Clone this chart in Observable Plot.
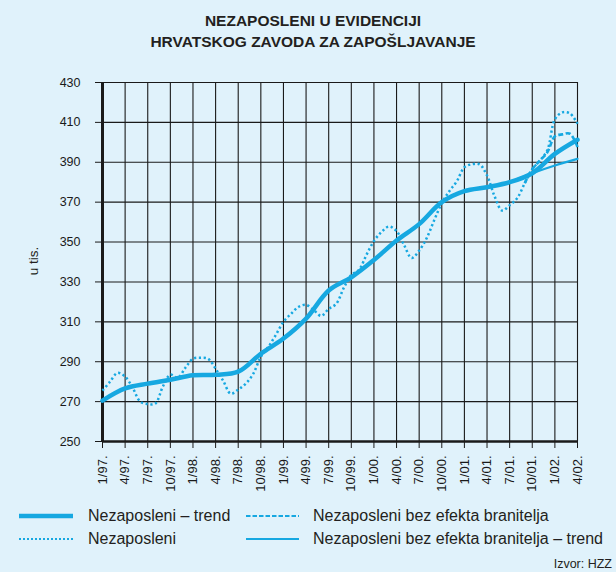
<!DOCTYPE html>
<html>
<head>
<meta charset="utf-8">
<script src="https://cdn.jsdelivr.net/npm/d3@7"></script>
<script src="https://cdn.jsdelivr.net/npm/@observablehq/plot@0.6"></script>
<style>
  html, body { margin: 0; padding: 0; }
  body { width: 616px; height: 572px; background: #e0f2fb; position: relative; overflow: hidden;
         font-family: "Liberation Sans", Arial, Helvetica, sans-serif; color: #222; }
  #title { position: absolute; left: 5px; top: 10px; width: 616px; text-align: center;
           font-weight: bold; font-size: 15.5px; line-height: 21px; color: #231f20; }
  #chart { position: absolute; left: 0; top: 0; }
  #ylab { position: absolute; left: 33px; top: 261px; font-size: 13.5px; color: #231f20;
          transform: translate(-50%, -50%) rotate(-90deg); white-space: nowrap; }
  .leg { position: absolute; font-size: 16px; line-height: 18px; color: #231f20; white-space: nowrap; }
  #swatches { position: absolute; left: 0; top: 500px; }
  #source { position: absolute; right: 4px; top: 557px; font-size: 12.5px; color: #231f20; }
</style>
</head>
<body>
<div id="title">NEZAPOSLENI U EVIDENCIJI<br>HRVATSKOG ZAVODA ZA ZAPOŠLJAVANJE</div>
<div id="chart"></div>
<div id="ylab">u tis.</div>
<svg id="swatches" width="616" height="72"></svg>
<div class="leg" style="left:88px; top:507px;">Nezaposleni – trend</div>
<div class="leg" style="left:88px; top:530px;">Nezaposleni</div>
<div class="leg" style="left:313px; top:507px;">Nezaposleni bez efekta branitelja</div>
<div class="leg" style="left:313px; top:530px;">Nezaposleni bez efekta branitelja – trend</div>
<div id="source">Izvor: HZZ</div>
<script>
// Quarterly tick labels (month index 0 = 1/97.)
const tickLabels = ["1/97.","4/97.","7/97.","10/97.","1/98.","4/98.","7/98.","10/98.","1/99.","4/99.","7/99.","10/99.","1/00.","4/00.","7/00.","10/00.","1/01.","4/01.","7/01.","10/01.","1/02.","4/02."];
const tickMonths = [0,3,6,9,12,15,18,21,24,27,30,33,36,39,42,45,48,51,54,57,60,63];
const yTicks = [250,270,290,310,330,350,370,390,410,430];

// Nezaposleni (monthly, thousands), 1/97. .. 4/02.
const nezaposleni = [275.5,280,284.4,282.5,277,270,268.8,269,277.5,283.5,282,287,291.5,292,291.5,286.5,
  280.5,274,276,279,284,292.5,297.5,303.5,310,314,317.5,318.5,316,313,316.5,319,327,333.5,336,343.5,
  350.5,355,357.8,355.5,348.5,342,345.7,352,361,369.5,375.5,380.5,387.5,389,389,383.4,373,365.8,368.5,
  372,379.5,386.5,390.8,396,411.5,415,414.5,409.3];

// Nezaposleni – trend (quarterly points)
const trendMonths = [0,3,6,9,12,15,18,21,24,27,30,33,36,39,42,45,48,51,54,57,60,63];
const trend = [270.5,276.6,279,281,283.2,283.5,285,294,301.6,311.6,325.7,332.3,341,350.8,359,370,375.5,377.5,380,384.5,394.2,401.3];

// Nezaposleni bez efekta branitelja (where it differs)
const bezMonths = [56,57,58,59,60,61,62,63];
const bez = [379.5,386.5,390.8,395,403,404,404.3,397.6];

// Nezaposleni bez efekta branitelja – trend
const bezTrendMonths = [54,57,60,63];
const bezTrend = [380,384.5,388.4,391.7];

const color = "#16a8e1";
const ink = "#1a1a1a";

const rawData = nezaposleni.map((v, i) => ({t: i, v}));
const trendData = trend.map((v, i) => ({t: trendMonths[i], v}));
const bezData = bez.map((v, i) => ({t: bezMonths[i], v}));
const bezTrendData = bezTrend.map((v, i) => ({t: bezTrendMonths[i], v}));

const plot = Plot.plot({
  width: 616,
  height: 500,
  marginTop: 82,
  marginLeft: 102,
  marginRight: 39,
  marginBottom: 59,
  style: {background: "transparent", fontFamily: "'Liberation Sans', Arial, sans-serif", color: ink},
  x: {domain: [0, 63]},
  y: {domain: [250, 430]},
  marks: [
    Plot.gridY(yTicks, {stroke: ink, strokeOpacity: 1, strokeWidth: 1.1}),
    Plot.gridX(tickMonths, {stroke: ink, strokeOpacity: 1, strokeWidth: 1.1}),
    Plot.axisY(yTicks, {tickSize: 7, tickPadding: 15, fontSize: 12.5, stroke: ink, label: null}),
    Plot.axisX(tickMonths, {tickSize: 7, tickPadding: 7, tickRotate: -90, fontSize: 13, stroke: ink,
      tickFormat: d => tickLabels[tickMonths.indexOf(d)], label: null}),
    Plot.ruleY([250], {stroke: ink, strokeWidth: 2.5}),
    Plot.ruleX([0], {stroke: ink, strokeWidth: 3}),
    Plot.line(rawData, {x: "t", y: "v", stroke: color, strokeWidth: 2.5, strokeDasharray: "2.2,2.6",
      strokeLinecap: "butt", curve: "catmull-rom"}),
    Plot.line(bezData, {x: "t", y: "v", stroke: color, strokeWidth: 2.6, strokeDasharray: "5,2.5",
      strokeLinecap: "butt", curve: "catmull-rom"}),
    Plot.line(bezTrendData, {x: "t", y: "v", stroke: color, strokeWidth: 2.2, curve: "catmull-rom"}),
    Plot.line(trendData, {x: "t", y: "v", stroke: color, strokeWidth: 4.5, curve: "catmull-rom"})
  ]
});
document.getElementById("chart").appendChild(plot);

// legend swatches
const sw = d3.select("#swatches");
const sws = [
  {x1: 19, x2: 73, y: 16, w: 4.5, dash: null},
  {x1: 19, x2: 73, y: 39, w: 2.2, dash: "2,2"},
  {x1: 246, x2: 299, y: 16, w: 2.2, dash: "4.5,2"},
  {x1: 246, x2: 299, y: 39, w: 2.2, dash: null}
];
sws.forEach(s => {
  const l = sw.append("line").attr("x1", s.x1).attr("x2", s.x2).attr("y1", s.y).attr("y2", s.y)
    .attr("stroke", color).attr("stroke-width", s.w);
  if (s.dash) l.attr("stroke-dasharray", s.dash);
});
</script>
</body>
</html>
